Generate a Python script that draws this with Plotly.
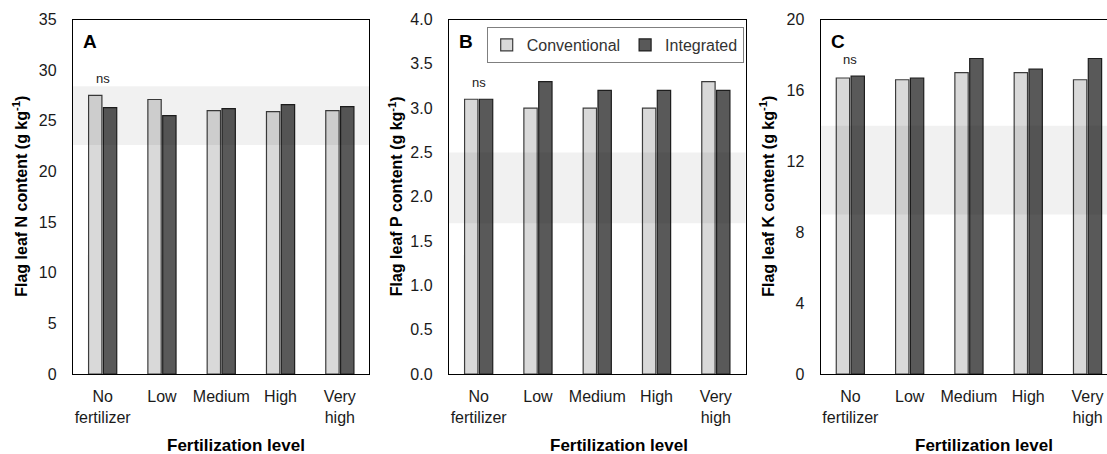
import plotly.graph_objects as go

W, H = 1107, 454

categories = ["No<br>fertilizer", "Low", "Medium", "High", "Very<br>high"]
series_names = ["Conventional", "Integrated"]

n_conventional = [27.5, 27.1, 26.0, 25.9, 26.0]
n_integrated = [26.3, 25.5, 26.2, 26.6, 26.4]
p_conventional = [3.1, 3.0, 3.0, 3.0, 3.3]
p_integrated = [3.1, 3.3, 3.2, 3.2, 3.2]
k_conventional = [16.7, 16.6, 17.0, 17.0, 16.6]
k_integrated = [16.8, 16.7, 17.8, 17.2, 17.8]

n_band = [22.6, 28.4]
p_band = [1.7, 2.5]
k_band = [9.0, 14.0]

y_titles = ["Flag leaf N content (g kg<sup>-1</sup>)",
            "Flag leaf P content (g kg<sup>-1</sup>)",
            "Flag leaf K content (g kg<sup>-1</sup>)"]
panel_letters = ["A", "B", "C"]
x_title = "Fertilization level"
y_ranges = [[0, 35], [0, 4.0], [0, 20]]
y_dticks = [5, 0.5, 4]
y_formats = ["d", ".1f", "d"]

FONT = "Liberation Sans, Arial, sans-serif"
TXT = "#1a1a1a"
conv_fill, conv_line = "#d9d9d9", "#3c3c3c"
int_fill, int_line = "#595959", "#1e1e1e"

# pixel geometry of plot areas
px_left = [73, 449, 820.7]
px_right = [369, 745.5, 1107]
px_top, px_bottom = 19.5, 374
cat_px = 59.3

fig = go.Figure()

panels = [
    (n_conventional, n_integrated, n_band),
    (p_conventional, p_integrated, p_band),
    (k_conventional, k_integrated, k_band),
]

for i, (conv, integ, band) in enumerate(panels):
    xa = "x" if i == 0 else f"x{i+1}"
    ya = "y" if i == 0 else f"y{i+1}"
    show = (i == 1)
    fig.add_trace(go.Bar(x=categories, y=conv, name=series_names[0],
                         marker=dict(color=conv_fill, line=dict(color=conv_line, width=1.2)),
                         xaxis=xa, yaxis=ya, showlegend=show, legendgroup="c"))
    fig.add_trace(go.Bar(x=categories, y=integ, name=series_names[1],
                         marker=dict(color=int_fill, line=dict(color=int_line, width=1.2)),
                         xaxis=xa, yaxis=ya, showlegend=show, legendgroup="i"))
    # shaded sufficiency band
    fig.add_shape(type="rect", xref=f"{xa} domain", yref=ya,
                  x0=0, x1=1, y0=band[0], y1=band[1],
                  fillcolor="rgba(0,0,0,0.055)", line=dict(width=0), layer="above")
    # ns label
    fig.add_annotation(x=categories[0], y=max(conv[0], integ[0]), xref=xa, yref=ya,
                       text="ns", showarrow=False, yanchor="bottom", yshift=7,
                       font=dict(family=FONT, size=13, color=TXT))
    # panel letter
    fig.add_annotation(x=(px_left[i] + 17) / W, y=1 - 41 / H, xref="paper", yref="paper",
                       text=f"<b>{panel_letters[i]}</b>", showarrow=False,
                       xanchor="center", yanchor="middle",
                       font=dict(family=FONT, size=19, color="black"))

    dom_x = [px_left[i] / W, px_right[i] / W]
    width_px = px_right[i] - px_left[i]
    xr = [-0.5, -0.5 + width_px / cat_px]
    dom_y = [(H - px_bottom) / H, (H - px_top) / H]
    key_x = "xaxis" if i == 0 else f"xaxis{i+1}"
    key_y = "yaxis" if i == 0 else f"yaxis{i+1}"
    fig.layout[key_x] = dict(domain=dom_x, anchor=ya, range=xr, type="category",
                             showline=True, linecolor="black", linewidth=1.4,
                             mirror=True, ticks="", showgrid=False, zeroline=False,
                             automargin=False,
                             tickfont=dict(family=FONT, size=16, color=TXT),
                             ticklabelstandoff=8, fixedrange=True)
    fig.layout[key_y] = dict(domain=dom_y, anchor=xa, range=y_ranges[i],
                             dtick=y_dticks[i], tick0=0, tickformat=y_formats[i],
                             showline=True, linecolor="black", linewidth=1.4,
                             mirror=(i < 2), ticks="", showgrid=False, zeroline=False,
                             automargin=False,
                             tickfont=dict(family=FONT, size=16, color=TXT),
                             ticklabelstandoff=12, fixedrange=True)

# axis titles
y_title_px = [20, 395.5, 767]
x_title_px = [236, 619, 984]
for i in range(3):
    fig.add_annotation(x=y_title_px[i] / W, y=1 - ((px_top + px_bottom) / 2) / H,
                       xref="paper", yref="paper", text=f"<b>{y_titles[i]}</b>",
                       textangle=-90, showarrow=False, xanchor="center", yanchor="middle",
                       font=dict(family=FONT, size=16, color="black"))
    fig.add_annotation(x=x_title_px[i] / W, y=1 - 445 / H, xref="paper", yref="paper",
                       text=f"<b>{x_title}</b>", showarrow=False,
                       xanchor="center", yanchor="middle",
                       font=dict(family=FONT, size=17, color="black"))

fig.update_layout(
    width=W, height=H,
    margin=dict(l=0, r=0, t=0, b=0, autoexpand=False),
    paper_bgcolor="white", plot_bgcolor="white",
    barmode="group", bargap=0.5, bargroupgap=0.1,
    font=dict(family=FONT, color=TXT),
    legend=dict(orientation="h", x=486.7 / W, y=1 - 27 / H, xanchor="left", yanchor="top",
                bordercolor="#7f7f7f", borderwidth=1, bgcolor="white",
                font=dict(family=FONT, size=16, color="#333333"),
                itemwidth=30, tracegroupgap=0),
)

fig.write_html("out.html")
